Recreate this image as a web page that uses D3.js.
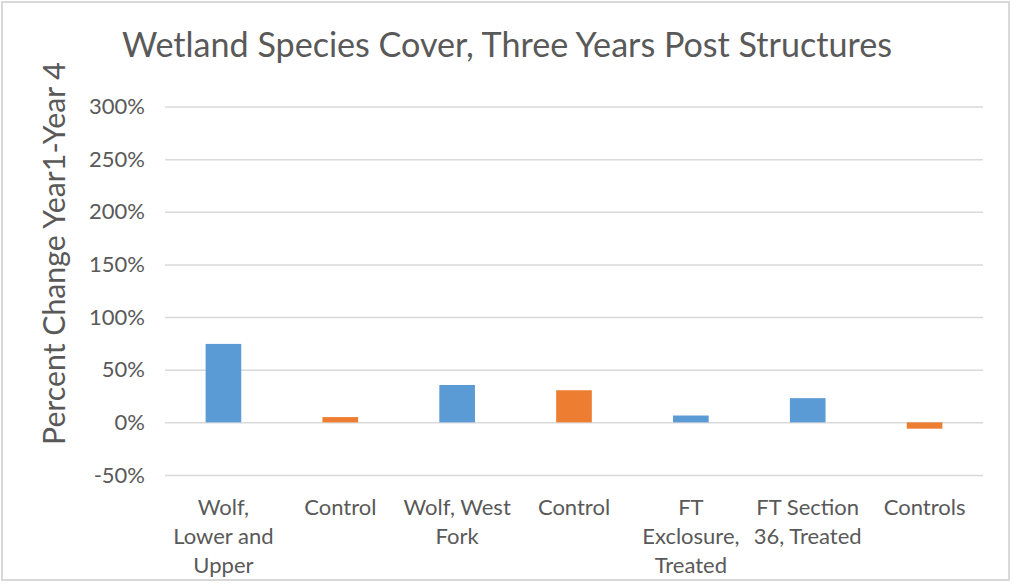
<!DOCTYPE html>
<html>
<head>
<meta charset="utf-8">
<script src="https://cdn.jsdelivr.net/npm/d3@7"></script>
<style>
  body { margin: 0; background: #fff; }
  text { font-family: Lato, "Open Sans", sans-serif; fill: #595959; }
</style>
</head>
<body>
<div id="chart"></div>
<script>
// chart data
var categories = [
  ["Wolf,", "Lower and", "Upper"],
  ["Control"],
  ["Wolf, West", "Fork"],
  ["Control"],
  ["FT", "Exclosure,", "Treated"],
  ["FT Section", "36, Treated"],
  ["Controls"]
];
var values = [0.745, 0.05, 0.355, 0.305, 0.065, 0.23, -0.06];
var seriesType = ["treated", "control", "treated", "control", "treated", "treated", "control"];
var yTicks = [-0.5, 0, 0.5, 1, 1.5, 2, 2.5, 3];

var titleText = "Wetland Species Cover, Three Years Post Structures";
var yTitleText = "Percent Change Year1-Year 4";

//Width and height
var w = 1013;
var h = 586;
var plot = { left: 165, right: 983, top: 106.5, bottom: 475 };

var color = d3.scaleOrdinal()
  .domain(["treated", "control"])
  .range(["#5B9BD5", "#ED7D31"]);

var svg = d3.select("#chart")
  .append("svg")
  .attr("width", w)
  .attr("height", h);

// outer frame
svg.append("rect")
  .attr("x", 2).attr("y", 2)
  .attr("width", 1007).attr("height", 578)
  .attr("fill", "none")
  .attr("stroke", "#D9D9D9")
  .attr("stroke-width", 2);

var x = d3.scaleBand()
  .domain(d3.range(categories.length))
  .range([plot.left, plot.right])
  .paddingInner(0.695)
  .paddingOuter(0.3475);

var y = d3.scaleLinear()
  .domain([-0.5, 3])
  .range([plot.bottom, plot.top]);

// gridlines + tick labels (plain hyphen for negatives, like Excel)
var pct = function(d) { return Math.round(d * 100) + "%"; };

var yAxis = d3.axisLeft(y)
  .tickValues(yTicks)
  .tickSize(-(plot.right - plot.left))
  .tickPadding(20)
  .tickFormat(pct);

var gy = svg.append("g")
  .attr("transform", "translate(" + plot.left + ",0)")
  .call(yAxis);
gy.select(".domain").remove();
gy.selectAll(".tick line")
  .attr("stroke", "#D9D9D9")
  .attr("stroke-width", 1.5);
gy.selectAll(".tick text")
  .style("font-size", "22px")
  .attr("fill", "#595959");

// bars
svg.selectAll("rect.bar")
  .data(values)
  .enter()
  .append("rect")
  .attr("class", "bar")
  .attr("x", function(d, i) { return x(i); })
  .attr("width", x.bandwidth())
  .attr("y", function(d) { return y(Math.max(0, d)); })
  .attr("height", function(d) { return Math.abs(y(d) - y(0)); })
  .attr("fill", function(d, i) { return color(seriesType[i]); });

// category labels
var labels = svg.selectAll("text.cat")
  .data(categories)
  .enter()
  .append("text")
  .attr("class", "cat")
  .attr("text-anchor", "middle")
  .style("font-size", "22px")
  .attr("transform", function(d, i) {
    return "translate(" + (x(i) + x.bandwidth() / 2) + ",515)";
  });
labels.selectAll("tspan")
  .data(function(d) { return d; })
  .enter()
  .append("tspan")
  .attr("x", 0)
  .attr("y", function(d, j) { return j * 29; })
  .text(function(d) { return d; });

// shrink/grow a text so it spans the target length
function fitText(sel, target) {
  var len = sel.node().getComputedTextLength();
  var size = parseFloat(sel.style("font-size"));
  sel.style("font-size", (size * target / len) + "px");
}

var title = svg.append("text")
  .attr("x", 507)
  .attr("y", 57)
  .attr("text-anchor", "middle")
  .style("font-size", "34px")
  .text(titleText);
fitText(title, 770);

var yTitle = svg.append("text")
  .attr("transform", "translate(65,253.5) rotate(-90)")
  .attr("text-anchor", "middle")
  .style("font-size", "28px")
  .text(yTitleText);
fitText(yTitle, 383);
</script>
</body>
</html>
